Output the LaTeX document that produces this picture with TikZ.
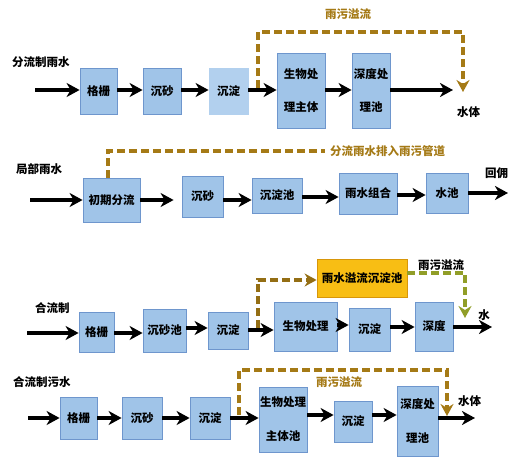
\documentclass[tikz,border=0pt]{standalone}
\usepackage{fontspec}
\setmainfont{Noto Sans CJK SC}
\usetikzlibrary{arrows.meta,positioning}
\definecolor{boxfill}{RGB}{160,196,232}
\definecolor{boxfilllight}{RGB}{178,208,238}
\definecolor{boxline}{RGB}{110,150,205}
\definecolor{ovfill}{RGB}{248,190,20}
\definecolor{ovline}{RGB}{215,150,10}
\definecolor{dashbrown}{RGB}{165,122,22}
\definecolor{dashgreen}{RGB}{145,158,40}
\tikzset{
  pbox/.style={draw=boxline, fill=boxfill, line width=0.8pt, inner sep=0pt, align=center,
    font=\bfseries\fontsize{11.5}{33}\selectfont},
  flow/.style={line width=3.8pt, -{Stealth[length=13pt,width=14pt,inset=4pt]}},
  over/.style={draw=dashbrown, line width=3.5pt, dash pattern=on 8pt off 4pt,
    -{Stealth[length=12pt,width=13pt,inset=4pt]}},
  overg/.style={over, draw=dashgreen},
  lab/.style={font=\bfseries\fontsize{11.5}{14}\selectfont, inner sep=0pt},
  blab/.style={lab, text=dashbrown},
}
\begin{document}
\begin{tikzpicture}[x=1pt,y=-1pt]
\useasboundingbox (0,0) rectangle (523,466);
% ---------- Row 1 ----------
\node[lab, anchor=west] (t1) at (12,62) {分流制雨水};
\node[pbox, minimum width=37pt, minimum height=46pt] (b11) at (98.5,91) {格栅};
\node[pbox, minimum width=38pt, minimum height=46pt] (b12) at (162,91) {沉砂};
\node[pbox, fill=boxfilllight, draw=boxfilllight, minimum width=39pt, minimum height=46pt] (b13) at (228.5,91) {沉淀};
\node[pbox, minimum width=48pt, minimum height=75pt] (b14) at (301,90.5) {生物处\\理主体};
\node[pbox, minimum width=38pt, minimum height=75pt] (b15) at (371,90.5) {深度处\\理池};
\coordinate (s1) at (35,90);
\coordinate (e1) at (453,90);
\node[lab, anchor=west] (w1) at (457,112) {水体};
\draw[flow] (s1) -- (s1 -| b11.west);
\draw[flow] (b11.east |- s1) -- (b12.west |- s1);
\draw[flow] (b12.east |- s1) -- (b13.west |- s1);
\draw[flow] (b13.east |- s1) -- (b14.west |- s1);
\draw[flow] (b14.east |- s1) -- (b15.west |- s1);
\draw[flow] (b15.east |- s1) -- (e1);
\coordinate (d1a) at (258,88);
\coordinate (d1b) at (258,32);
\coordinate (d1c) at (463,32);
\coordinate (d1d) at (463,92);
\draw[over] (d1a) -- (d1b) -- (d1c) -- (d1d);
\node[blab] (l1) at (348,14) {雨污溢流};
% ---------- Row 2 ----------
\node[lab, anchor=west] (t2) at (16,169) {局部雨水};
\node[pbox, minimum width=57pt, minimum height=44pt] (b21) at (111.5,200) {初期分流};
\node[pbox, minimum width=41pt, minimum height=41pt] (b22) at (202.5,196.5) {沉砂};
\node[pbox, minimum width=50pt, minimum height=35pt] (b23) at (277,195.5) {沉淀池};
\node[pbox, minimum width=58pt, minimum height=41pt] (b24) at (368,193.5) {雨水组合};
\node[pbox, minimum width=42pt, minimum height=40pt] (b25) at (447,193) {水池};
\coordinate (s2) at (30,200);
\coordinate (e2) at (508,193);
\node[lab, anchor=west] (w2) at (485,173) {回佣};
\draw[flow] (s2) -- (s2 -| b21.west);
\draw[flow, shorten >=8pt] (b21.east |- s2) -- (b22.west |- s2);
\draw[flow] (b22.east |- s2) -- (b23.west |- s2);
\draw[flow] (b23.east |- 0,197) -- (b24.west |- 0,197);
\draw[flow] (b24.east |- 0,195) -- (b25.west |- 0,195);
\draw[flow] (b25.east |- e2) -- (e2);
\coordinate (d2b) at (108,151);
\coordinate (d2c) at (325,151);
\draw[draw=dashbrown, line width=3.5pt, dash pattern=on 8pt off 4pt] (b21.north -| d2b) -- (d2b) -- (d2c);
\node[blab, anchor=west] (l2) at (330,151) {分流雨水排入雨污管道};
% ---------- Row 3 ----------
\node[lab, anchor=west] (t3) at (35,308) {合流制};
\node[pbox, minimum width=35pt, minimum height=40pt] (b31) at (96.5,332) {格栅};
\node[pbox, minimum width=43pt, minimum height=43pt] (b32) at (164.5,330.5) {沉砂池};
\node[pbox, minimum width=40pt, minimum height=37pt] (b33) at (228,330.5) {沉淀};
\node[pbox, minimum width=63pt, minimum height=49pt] (b34) at (305.5,326.5) {生物处理};
\node[pbox, minimum width=41pt, minimum height=43pt] (b35) at (369.5,329.5) {沉淀};
\node[pbox, minimum width=38pt, minimum height=49pt] (b36) at (434,326.5) {深度};
\node[pbox, fill=ovfill, draw=ovline, minimum width=90pt, minimum height=38pt] (ob) at (362,278) {雨水溢流沉淀池};
\coordinate (s3) at (27,333);
\coordinate (e3) at (492,327);
\node[lab] (w3) at (484,315) {水};
\draw[flow] (s3) -- (s3 -| b31.west);
\draw[flow] (b31.east |- s3) -- (b32.west |- s3);
\draw[flow] (b32.east |- 0,328) -- (b33.west |- 0,328);
\draw[flow] (b33.east |- 0,330) -- (b34.west |- 0,330);
\draw[flow] (b34.east |- 0,325) -- (b35.west |- 0,325);
\draw[flow] (b35.east |- 0,327) -- (b36.west |- 0,327);
\draw[flow] (b36.east |- e3) -- (e3);
\coordinate (d3a) at (258,328);
\coordinate (d3b) at (258,280);
\draw[over, draw=dashbrown!90!black] (d3a) -- (d3b) -- (d3b -| ob.west);
\coordinate (d3c) at (465,273);
\coordinate (d3d) at (465,318);
\draw[overg] (ob.east |- d3c) -- (d3c) -- (d3d);
\node[lab] (l3) at (441,265) {雨污溢流};
% ---------- Row 4 ----------
\node[lab, anchor=west] (t4) at (13,382) {合流制污水};
\node[pbox, minimum width=37pt, minimum height=42pt] (b41) at (78.5,418) {格栅};
\node[pbox, minimum width=40pt, minimum height=42pt] (b42) at (142,418) {沉砂};
\node[pbox, minimum width=40pt, minimum height=42pt] (b43) at (210,418) {沉淀};
\node[pbox, minimum width=48pt, minimum height=65pt, font=\bfseries\fontsize{11.5}{34}\selectfont] (b44) at (283,419.5) {生物处理\\主体池};
\node[pbox, minimum width=38pt, minimum height=41pt] (b45) at (353,421.5) {沉淀};
\node[pbox, minimum width=41pt, minimum height=70pt, font=\bfseries\fontsize{11.5}{35}\selectfont] (b46) at (417.5,421) {深度处\\理池};
\coordinate (s4) at (28,418);
\coordinate (e4) at (475,418);
\node[lab, anchor=west] (w4) at (458,401) {水体};
\draw[flow] (s4) -- (s4 -| b41.west);
\draw[flow] (b41.east |- s4) -- (b42.west |- s4);
\draw[flow] (b42.east |- s4) -- (b43.west |- s4);
\draw[flow] (b43.east |- s4) -- (b44.west |- s4);
\draw[flow] (b44.east |- 0,415) -- (b45.west |- 0,415);
\draw[flow] (b45.east |- 0,415) -- (b46.west |- 0,415);
\draw[flow] (b46.east |- e4) -- (e4);
\coordinate (d4a) at (239,415);
\coordinate (d4b) at (239,370);
\coordinate (d4c) at (447,370);
\coordinate (d4d) at (447,416);
\draw[over] (d4a) -- (d4b) -- (d4c) -- (d4d);
\node[blab] (l4) at (339,382) {雨污溢流};
\end{tikzpicture}
\end{document}
